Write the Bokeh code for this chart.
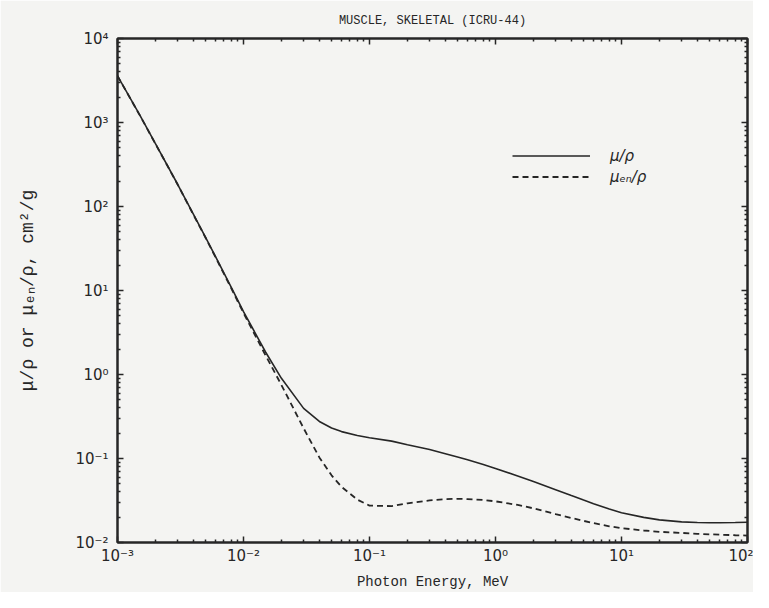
from bokeh.plotting import figure
from bokeh.models import LogAxis, FixedTicker, Legend, LegendItem, Range1d, ColumnDataSource
from bokeh.embed import file_html
from bokeh.resources import INLINE

# Photon energy (MeV)
energy = [0.001, 0.0015, 0.002, 0.003, 0.004, 0.005, 0.006, 0.008, 0.01, 0.015,
          0.02, 0.03, 0.04, 0.05, 0.06, 0.08, 0.1, 0.15, 0.2, 0.3, 0.4, 0.5, 0.6,
          0.8, 1.0, 1.5, 2.0, 3.0, 4.0, 5.0, 6.0, 8.0, 10.0, 15.0, 20.0, 30.0,
          40.0, 50.0, 60.0, 80.0, 100.0]
# mass attenuation coefficient mu/rho (cm2/g)
mu_rho = [3600, 1230, 560, 184, 81, 43, 25.3, 10.9, 5.6, 1.84,
          0.90, 0.395, 0.276, 0.231, 0.209, 0.188, 0.177, 0.161, 0.146, 0.128, 0.114, 0.104, 0.0964,
          0.0847, 0.0762, 0.0619, 0.0532, 0.0425, 0.0362, 0.0320, 0.0290, 0.0250, 0.0226, 0.0199, 0.0186, 0.0176,
          0.0173, 0.0172, 0.0172, 0.0173, 0.0174]
# mass energy-absorption coefficient mu_en/rho (cm2/g)
muen_rho = [3590, 1225, 558, 183, 80, 42.5, 24.9, 10.6, 5.4, 1.68,
            0.75, 0.229, 0.103, 0.063, 0.046, 0.0324, 0.0275, 0.0271, 0.0293, 0.0317, 0.0328, 0.0331, 0.0329,
            0.0321, 0.0309, 0.0280, 0.0255, 0.0218, 0.0196, 0.0181, 0.0170, 0.0156, 0.0148, 0.0139, 0.0134, 0.0130,
            0.0127, 0.0125, 0.0124, 0.0122, 0.0121]

x_tick_values = [1e-3, 1e-2, 1e-1, 1e0, 1e1, 1e2]
x_tick_labels = ["10⁻³", "10⁻²", "10⁻¹", "10⁰", "10¹", "10²"]
y_tick_values = [1e-2, 1e-1, 1e0, 1e1, 1e2, 1e3, 1e4]
y_tick_labels = ["10⁻²", "10⁻¹", "10⁰", "10¹", "10²", "10³", "10⁴"]

title_text = "MUSCLE, SKELETAL (ICRU-44)"
x_label = "Photon Energy, MeV"
y_label = "μ/ρ or μₑₙ/ρ, cm²/g"
legend_labels = ["μ/ρ", "μₑₙ/ρ"]

INK = "#262626"
BG = "#f4f4f2"

def minors(decades):
    out = []
    for d in decades[:-1]:
        out += [d * k for k in range(2, 10)]
    return out

p = figure(width=753, height=592, x_axis_type="log", y_axis_type="log",
           x_range=Range1d(x_tick_values[0], x_tick_values[-1]),
           y_range=Range1d(y_tick_values[0], y_tick_values[-1]),
           output_backend="svg", toolbar_location=None,
           title=title_text,
           min_border_left=117, min_border_right=6, min_border_top=35, min_border_bottom=50)

p.background_fill_color = BG
p.border_fill_color = BG
p.outline_line_color = INK
p.outline_line_width = 2
p.xgrid.visible = False
p.ygrid.visible = False

p.title.text_font = "Liberation Mono"
p.title.text_font_size = "12px"
p.title.text_font_style = "normal"
p.title.text_color = INK
p.title.align = "center"
p.title.standoff = 22

def style_axis(ax, values, labels, show_labels=True):
    ax.ticker = FixedTicker(ticks=values, minor_ticks=minors(values))
    ax.axis_line_color = INK
    ax.axis_line_width = 2
    ax.major_tick_in = 6
    ax.major_tick_out = 0
    ax.minor_tick_in = 3
    ax.minor_tick_out = 0
    ax.major_tick_line_color = INK
    ax.minor_tick_line_color = INK
    ax.major_tick_line_width = 1.5
    ax.minor_tick_line_width = 1.5
    ax.major_label_overrides = {v: s for v, s in zip(values, labels)}
    if show_labels:
        ax.major_label_text_font = "DejaVu Sans"
        ax.major_label_text_font_size = "15px"
        ax.major_label_text_color = INK
    else:
        ax.major_label_text_font_size = "1px"
        ax.major_label_text_alpha = 0
        ax.major_label_standoff = 0

xa = p.xaxis[0]
ya = p.yaxis[0]
style_axis(xa, x_tick_values, x_tick_labels)
style_axis(ya, y_tick_values, y_tick_labels)
xa.major_label_standoff = 4
ya.major_label_standoff = 9

xa.axis_label = x_label
xa.axis_label_text_font = "Liberation Mono"
xa.axis_label_text_font_size = "14px"
xa.axis_label_text_font_style = "normal"
xa.axis_label_text_color = INK
xa.axis_label_standoff = 6

ya.axis_label = y_label
ya.axis_label_text_font = "Liberation Mono"
ya.axis_label_text_font_size = "18px"
ya.axis_label_text_font_style = "normal"
ya.axis_label_text_color = INK
ya.axis_label_standoff = 34

top = LogAxis()
style_axis(top, x_tick_values, x_tick_labels, show_labels=False)
top.major_label_standoff = 6
p.add_layout(top, "above")
right = LogAxis()
style_axis(right, y_tick_values, y_tick_labels, show_labels=False)
p.add_layout(right, "right")

src = ColumnDataSource(dict(e=energy, mu=mu_rho, muen=muen_rho))
r1 = p.line("e", "mu", source=src, line_color=INK, line_width=1.6)
r2 = p.line("e", "muen", source=src, line_color=INK, line_width=1.8, line_dash="6 4")

legend = Legend(items=[LegendItem(label=legend_labels[0], renderers=[r1]),
                       LegendItem(label=legend_labels[1], renderers=[r2])],
                location=(393, 353), orientation="vertical")
legend.background_fill_alpha = 0
legend.border_line_alpha = 0
legend.padding = 2
legend.margin = 0
legend.spacing = 0
legend.glyph_width = 78
legend.glyph_height = 21
legend.label_height = 21
legend.label_standoff = 20
legend.label_text_font = "DejaVu Sans"
legend.label_text_font_size = "15px"
legend.label_text_font_style = "italic"
legend.label_text_color = INK
p.add_layout(legend, "center")

open("out.html", "w").write(file_html(p, INLINE))
